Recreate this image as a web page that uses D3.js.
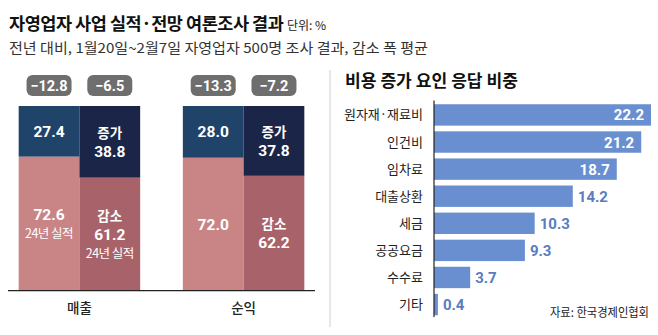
<!DOCTYPE html>
<html><head><meta charset="utf-8">
<script src="https://cdn.jsdelivr.net/npm/d3@7/dist/d3.min.js"></script>
<style>body{margin:0;background:#fff;}svg{display:block;font-family:"Noto Sans CJK KR","Noto Sans",sans-serif;}</style>
</head><body><svg id="c" width="658" height="335"></svg>
<script>
// ---- data ----
const groups = ["매출", "순익"];
const barKinds = ["실적", "전망"];
const increaseValues = [[27.4, 38.8], [28.0, 37.8]];
const decreaseValues = [[72.6, 61.2], [72.0, 62.2]];
const avgDecrease = [["−12.8", "−6.5"], ["−13.3", "−7.2"]];
const increaseShowWord = [[false, true], [false, true]];
const decreaseNote = [["24년 실적", "24년 실적"], ["", ""]];

const causes = ["원자재·재료비", "인건비", "임차료", "대출상환", "세금", "공공요금", "수수료", "기타"];
const causeValues = [22.2, 21.2, 18.7, 14.2, 10.3, 9.3, 3.7, 0.4];

const svg = d3.select("#c");
const NUM = "Roboto, 'Liberation Sans', sans-serif";

// titles
svg.append("text").attr("x", 9).attr("y", 30).attr("font-size", 17.5).attr("font-weight", 700).attr("fill", "#111")
  .attr("letter-spacing", -0.45)
  .text("자영업자 사업 실적·전망 여론조사 결과");
svg.append("text").attr("x", 287).attr("y", 30).attr("font-size", 12).attr("fill", "#222").text("단위: %");
svg.append("text").attr("x", 9).attr("y", 53).attr("font-size", 13.5).attr("fill", "#333")
  .attr("textLength", 419).attr("lengthAdjust", "spacingAndGlyphs")
  .text("전년 대비, 1월20일~2월7일 자영업자 500명 조사 결과, 감소 폭 평균");

// stacked label helper; kind: w = Korean word, n = number, s = small note
function stackLabel(sel, cx, mid, lines) {
  const gaps = [];
  for (let i = 1; i < lines.length; i++) gaps.push(lines[i - 1].k === "w" ? 18.7 : 18);
  const total = d3.sum(gaps);
  let yy = mid - total / 2;
  lines.forEach((l, li) => {
    if (li > 0) yy += gaps[li - 1];
    const t = sel.append("text").attr("x", cx).attr("y", yy + 5.5).attr("text-anchor", "middle").attr("fill", "#fff").text(l.t);
    if (l.k === "n") t.attr("font-family", NUM).attr("font-size", 15.5).attr("font-weight", 700);
    else if (l.k === "w") t.attr("font-size", 13.5).attr("font-weight", 700);
    else t.attr("font-size", 12.5).attr("font-weight", 400).attr("letter-spacing", -0.5);
  });
}

// ---- left stacked chart ----
const y = d3.scaleLinear().domain([0, 100]).range([290.7, 106]);
const xg = d3.scaleBand().domain(groups).range([8, 315]).paddingInner(0.26).paddingOuter(0.065);
const xs = d3.scaleBand().domain(barKinds).range([0, xg.bandwidth()]);
const incCol = ["#1f4369", "#1b2548"], decCol = ["#c98486", "#a8636a"];

groups.forEach((g, gi) => {
  barKinds.forEach((k, ki) => {
    const x0 = xg(g) + xs(k), w = xs.bandwidth();
    const dec = decreaseValues[gi][ki], inc = increaseValues[gi][ki];
    const gg = svg.append("g");
    gg.append("rect").attr("x", x0).attr("width", w).attr("y", y(dec)).attr("height", y(0) - y(dec)).attr("fill", decCol[ki]);
    gg.append("rect").attr("x", x0).attr("width", w).attr("y", y(100)).attr("height", y(dec) - y(100)).attr("fill", incCol[ki]);
    const cx = x0 + w / 2;
    const incLines = [];
    if (increaseShowWord[gi][ki]) incLines.push({t: "증가", k: "w"});
    incLines.push({t: inc.toFixed(1), k: "n"});
    stackLabel(gg, cx, (y(100) + y(dec)) / 2, incLines);

    const decLines = [];
    if (ki === 1) decLines.push({t: "감소", k: "w"});
    decLines.push({t: dec.toFixed(1), k: "n"});
    if (decreaseNote[gi][ki]) decLines.push({t: decreaseNote[gi][ki], k: "s"});
    stackLabel(gg, cx, (y(dec) + y(0)) / 2, decLines);

    const bw = 45, bh = 21;
    gg.append("rect").attr("x", cx - bw / 2).attr("y", 75).attr("width", bw).attr("height", bh).attr("rx", 6).attr("fill", "#6e6e6e");
    gg.append("text").attr("x", cx).attr("y", 90.5).attr("text-anchor", "middle").attr("font-family", NUM)
      .attr("font-size", 14.5).attr("font-weight", 700).attr("fill", "#fff").text(avgDecrease[gi][ki]);
  });
  svg.append("text").attr("x", xg(g) + xg.bandwidth() / 2).attr("y", 313).attr("text-anchor", "middle")
    .attr("font-size", 13.5).attr("font-weight", 500).attr("fill", "#222").text(g);
});
svg.append("line").attr("x1", 8).attr("x2", 315).attr("y1", 290.7).attr("y2", 290.7).attr("stroke", "#222").attr("stroke-width", 1.2);

// divider
svg.append("line").attr("x1", 330).attr("x2", 330).attr("y1", 70).attr("y2", 327).attr("stroke", "#cfcfcf").attr("stroke-width", 1);

// ---- right bar chart ----
svg.append("text").attr("x", 345).attr("y", 87).attr("font-size", 17).attr("font-weight", 700).attr("fill", "#111")
  .attr("textLength", 173).attr("lengthAdjust", "spacingAndGlyphs")
  .text("비용 증가 요인 응답 비중");
const xr = d3.scaleLinear().domain([0, 22.2]).range([434, 651]);
const yr = d3.scaleBand().domain(causes).range([101, 318.5]).paddingInner(0.21).paddingOuter(0.12);
causes.forEach((c, i) => {
  const v = causeValues[i];
  svg.append("rect").attr("x", xr(0)).attr("y", yr(c)).attr("width", xr(v) - xr(0)).attr("height", yr.bandwidth()).attr("fill", "#6a8fd0");
  const cy = yr(c) + yr.bandwidth() / 2;
  svg.append("text").attr("x", 423).attr("y", cy + 4.5).attr("text-anchor", "end").attr("font-size", 13).attr("fill", "#222").text(c);
  const inside = v > 15;
  svg.append("text").attr("x", inside ? xr(v) - 7 : xr(v) + 5).attr("y", cy + 5.5)
    .attr("text-anchor", inside ? "end" : "start").attr("font-family", NUM).attr("font-size", 15).attr("font-weight", 700)
    .attr("fill", inside ? "#fff" : "#5a7cbf").text(v.toFixed(1));
});
svg.append("line").attr("x1", 434).attr("x2", 434).attr("y1", 100.5).attr("y2", 317).attr("stroke", "#222").attr("stroke-width", 1.2);
svg.append("text").attr("x", 649).attr("y", 317).attr("text-anchor", "end").attr("font-size", 12).attr("fill", "#222")
  .attr("textLength", 99).attr("lengthAdjust", "spacingAndGlyphs").text("자료: 한국경제인협회");
</script></body></html>
